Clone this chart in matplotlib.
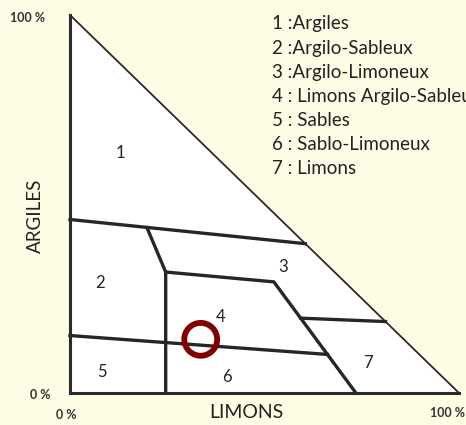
import matplotlib.pyplot as plt
from matplotlib.patches import Polygon

# Triangle texture diagram (limons on x, argiles on y, in %)
triangle_x = [0, 0, 100]
triangle_y = [100, 0, 0]

# zone boundaries
bound_a_x = [0, 60.5]
bound_a_y = [45.9, 39.5]
bound_b_x = [19.8, 24.6, 24.6]
bound_b_y = [43.7, 32.0, 0]
bound_c_x = [24.6, 52.4, 73.5]
bound_c_y = [32.0, 29.4, 0]
bound_d_x = [0, 66.2]
bound_d_y = [15.2, 10.2]
bound_e_x = [59.3, 81.1]
bound_e_y = [19.8, 18.9]

zone_ids = ["1", "2", "3", "4", "5", "6", "7"]
zone_x = [13.0, 7.7, 54.7, 38.6, 8.2, 40.4, 76.5]
zone_y = [63.4, 29.1, 33.4, 20.1, 5.6, 4.3, 7.9]
zone_names = ["Argiles", "Argilo-Sableux", "Argilo-Limoneux",
              "Limons Argilo-Sableux", "Sables", "Sablo-Limoneux", "Limons"]
zone_seps = [" :", " :", " :", " : ", " : ", " : ", " : "]

# sample point
sample_x = [33.6]
sample_y = [14.2]

bg = '#FEFCE4'
plt.rcParams['font.family'] = ['Lato', 'DejaVu Sans']

fig = plt.figure(figsize=(4.66, 4.25), dpi=100)
fig.patch.set_facecolor(bg)
W, H = 466, 425
ax = fig.add_axes([70 / W, (H - 393) / H, 389 / W, 378 / H])
ax.set_xlim(0, 100)
ax.set_ylim(0, 100)
ax.axis('off')

ax.add_patch(Polygon(list(zip(triangle_x, triangle_y)), closed=True,
                     facecolor='white', edgecolor='none', zorder=1))
# outer edges
ax.plot(triangle_x[:2], triangle_y[:2], color='#2a2a2a', lw=2.2, zorder=3,
        solid_capstyle='projecting', clip_on=False)
ax.plot(triangle_x[1:], triangle_y[1:], color='#2a2a2a', lw=2.2, zorder=3,
        solid_capstyle='projecting', clip_on=False)
ax.plot([triangle_x[0], triangle_x[2]], [triangle_y[0], triangle_y[2]],
        color='#2a2a2a', lw=1.3, zorder=3, clip_on=False)

for bx, by in [(bound_a_x, bound_a_y), (bound_b_x, bound_b_y),
               (bound_c_x, bound_c_y), (bound_d_x, bound_d_y),
               (bound_e_x, bound_e_y)]:
    ax.plot(bx, by, color='#262626', lw=2.4, zorder=2,
            solid_joinstyle='miter', clip_on=False)

for zid, zx, zy in zip(zone_ids, zone_x, zone_y):
    ax.text(zx, zy, zid, fontsize=12, color='#222222',
            ha='center', va='center', zorder=4)

ax.scatter(sample_x, sample_y, s=560, facecolors='none',
           edgecolors='#800000', linewidths=4.2, zorder=5, clip_on=False)

# legend block (line 4 runs past the right edge, as in the source)
for i, (zid, sep, name) in enumerate(zip(zone_ids, zone_seps, zone_names)):
    fig.text(272 / W, 1 - (24 + 24.1 * i) / H, zid + sep + name,
             fontsize=13.5, color='#222222', ha='left', va='center')

# axis annotations
pct = dict(fontsize=9, fontweight='bold', color='#333333')
fig.text(28 / W, 1 - 18 / H, '100 %', ha='center', va='center', **pct)
fig.text(40 / W, 1 - 395 / H, '0 %', ha='center', va='center', **pct)
fig.text(66 / W, 1 - 415 / H, '0 %', ha='center', va='center', **pct)
fig.text(447 / W, 1 - 413 / H, '100 %', ha='center', va='center', **pct)
fig.text(246 / W, 1 - 413 / H, 'LIMONS', ha='center', va='center',
         fontsize=14, color='#222222')
fig.text(35 / W, 1 - 216 / H, 'ARGILES', ha='center', va='center',
         rotation=90, fontsize=13.5, color='#222222')

fig.savefig('out.png', dpi=100, facecolor=bg)
